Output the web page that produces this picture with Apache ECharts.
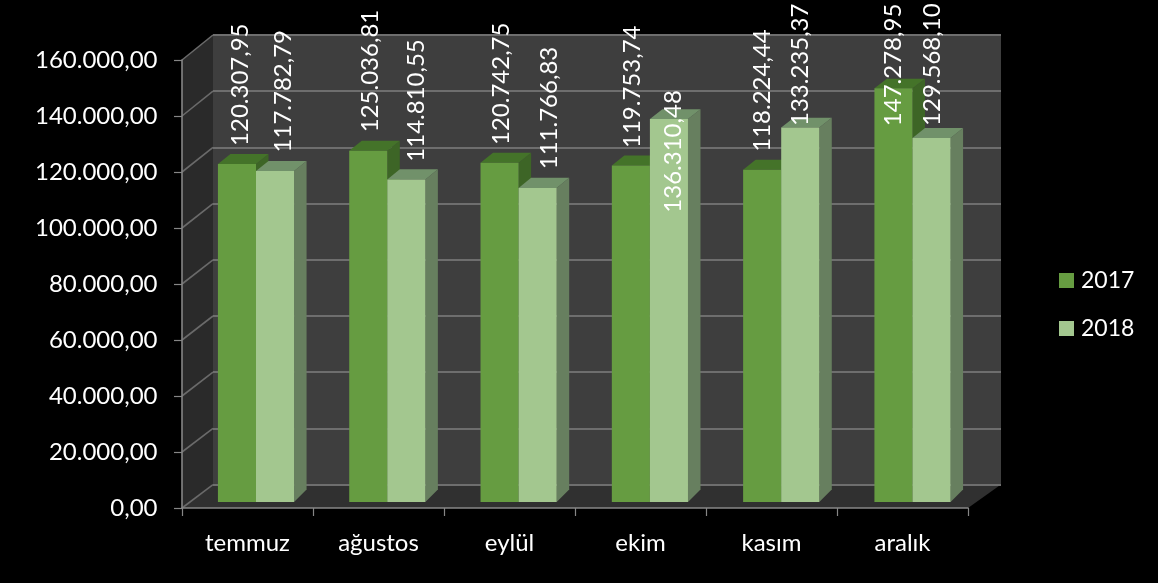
<!DOCTYPE html>
<html><head><meta charset="utf-8">
<style>html,body{margin:0;padding:0;background:#000}#c{width:1158px;height:583px}</style>
<script src="https://cdn.jsdelivr.net/npm/echarts@6/dist/echarts.min.js"></script>
</head><body><div id="c"></div>
<script>
const categories = ['temmuz','ağustos','eylül','ekim','kasım','aralık'];
const values2017 = [120307.95,125036.81,120742.75,119753.74,118224.44,147278.95];
const values2018 = [117782.79,114810.55,111766.83,136310.48,133235.37,129568.10];
const wallTicks = [0,20000,40000,60000,80000,100000,120000,140000,160000];
// label placement (hand-placed in the reference): shift from bar centre, gap above bar top
const labelShift2017 = [3,2,1.5,1,0,0];
const labelShift2018 = [8,10,12,4,0,1];
const labelGap2017 = [18,18.4,17.7,17.5,18,-38];
const labelGap2018 = [18.6,17.7,18.7,-93.7,1.6,12];

const FONT = 'Lato, Carlito, sans-serif';
const FS = 24;
const fmt = v => v.toFixed(2).replace('.',',').replace(/\B(?=(\d{3})+(?!\d))/g,'.');
const wallDx = 31;
const wallDy = v => 23.4 + 1.6*v/160000;
const barDx = 12.5;
const barDy = v => 12.4 - 0.00002*v;

const colors = {
  d:{front:'#669c41',top:'#447329',side:'#3d6526'},
  l:{front:'#a3c78f',top:'#71916a',side:'#677f5f'}
};

function barSeries(name, values, sign, c, shift, gap){
  return {
    type:'custom', name, coordinateSystem:'cartesian2d', xAxisIndex:2, yAxisIndex:2, z:5,
    itemStyle:{color:c.front},
    data: values.map((v,i)=>[i,v]),
    encode:{x:0,y:1},
    renderItem(params, api){
      const i = api.value(0), v = api.value(1);
      const w = api.size([1,0])[0]*0.29;
      const top = api.coord([i,v]), base = api.coord([i,0]);
      const x0 = sign<0 ? top[0]-w : top[0], x1 = x0+w;
      const dt = barDy(v), db = barDy(0);
      const y0 = top[1], y1 = base[1];
      const poly = (pts,fill)=>({type:'polygon',shape:{points:pts},style:{fill}});
      return {type:'group',children:[
        poly([[x1,y0],[x1+barDx,y0-dt],[x1+barDx,y1-db],[x1,y1]],c.side),
        poly([[x0,y0],[x0+barDx,y0-dt],[x1+barDx,y0-dt],[x1,y0]],c.top),
        poly([[x0,y0],[x1,y0],[x1,y1],[x0,y1]],c.front),
        {type:'text',x:(x0+x1)/2+shift[i],y:y0-gap[i],rotation:Math.PI/2,
         style:{text:fmt(v),fill:'#fff',font:FS+'px '+FONT,align:'left',verticalAlign:'middle'}}
      ]};
    }
  };
}

const wallSeries = {
  type:'custom', coordinateSystem:'cartesian2d', xAxisIndex:1, yAxisIndex:1, z:1, silent:true,
  data: wallTicks.map(v=>[0,v]),
  encode:{x:0,y:1},
  renderItem(params, api){
    const cs = params.coordSys, v = api.value(1);
    const xb = cs.x, xr = cs.x+cs.width;
    const yb = api.coord([0,v])[1];
    const line = {type:'line',shape:{x1:xb-wallDx,y1:yb+wallDy(v),x2:xb,y2:yb},
      style:{stroke:'#6a6a6a',lineWidth:1.6}};
    if (params.dataIndex===0){
      const yTop = cs.y, yBot = cs.y+cs.height;
      return {type:'group',children:[
        {type:'polygon',shape:{points:[[xb-wallDx,yBot+wallDy(0)],[xb,yBot],[xb,yTop],[xb-wallDx,yTop+wallDy(160000)]]},style:{fill:'#2a2a2a'}},
        {type:'polygon',shape:{points:[[xb-wallDx,yBot+wallDy(0)],[xr-wallDx-2,yBot+wallDy(0)],[xr,yBot],[xb,yBot]]},style:{fill:'#303030'}},
        line
      ]};
    }
    return line;
  }
};

const chart = echarts.init(document.getElementById('c'),null,{renderer:'canvas'});
const hiddenX = {type:'category',data:categories,show:false};
chart.setOption({
  backgroundColor:'#000',
  animation:false,
  textStyle:{fontFamily:FONT},
  grid:[
    {left:182,top:60,width:786,height:448},
    {left:213,top:35,width:788,height:449.6,show:true,backgroundColor:'#3e3e3e',borderWidth:0},
    {left:190.35,top:52.4,width:787.8,height:449.6}
  ],
  xAxis:[
    {gridIndex:0,type:'category',data:categories,z:3,
     axisLine:{show:true,lineStyle:{color:'#868686',width:1.6}},
     axisTick:{show:true,length:8,alignWithLabel:false,lineStyle:{color:'#868686',width:1.2}},
     axisLabel:{color:'#fff',fontSize:FS,fontFamily:FONT,margin:23,interval:0}},
    Object.assign({gridIndex:1},hiddenX),
    Object.assign({gridIndex:2},hiddenX)
  ],
  yAxis:[
    {gridIndex:0,type:'value',min:0,max:160000,interval:20000,z:3,
     axisLine:{show:true,lineStyle:{color:'#868686',width:1.6}},
     axisTick:{show:true,length:8,lineStyle:{color:'#868686',width:1.2}},
     splitLine:{show:false},
     axisLabel:{color:'#fff',fontSize:FS,fontFamily:FONT,margin:24.5,formatter:fmt}},
    {gridIndex:1,type:'value',min:0,max:160000,interval:20000,z:2,
     axisLine:{show:false},axisTick:{show:false},axisLabel:{show:false},
     splitLine:{show:true,lineStyle:{color:'#6e6e6e',width:2}}},
    {gridIndex:2,type:'value',min:0,max:160000,interval:20000,show:false,splitLine:{show:false}}
  ],
  legend:{
    show:true,orient:'vertical',left:1059,top:269,padding:0,itemWidth:15,itemHeight:15,itemGap:25,
    icon:'rect',data:['2017','2018'],
    textStyle:{color:'#fff',fontSize:23,fontFamily:FONT,padding:[0,0,0,2]}
  },
  series:[
    wallSeries,
    barSeries('2017',values2017,-1,colors.d,labelShift2017,labelGap2017),
    barSeries('2018',values2018,1,colors.l,labelShift2018,labelGap2018)
  ]
});
</script></body></html>
